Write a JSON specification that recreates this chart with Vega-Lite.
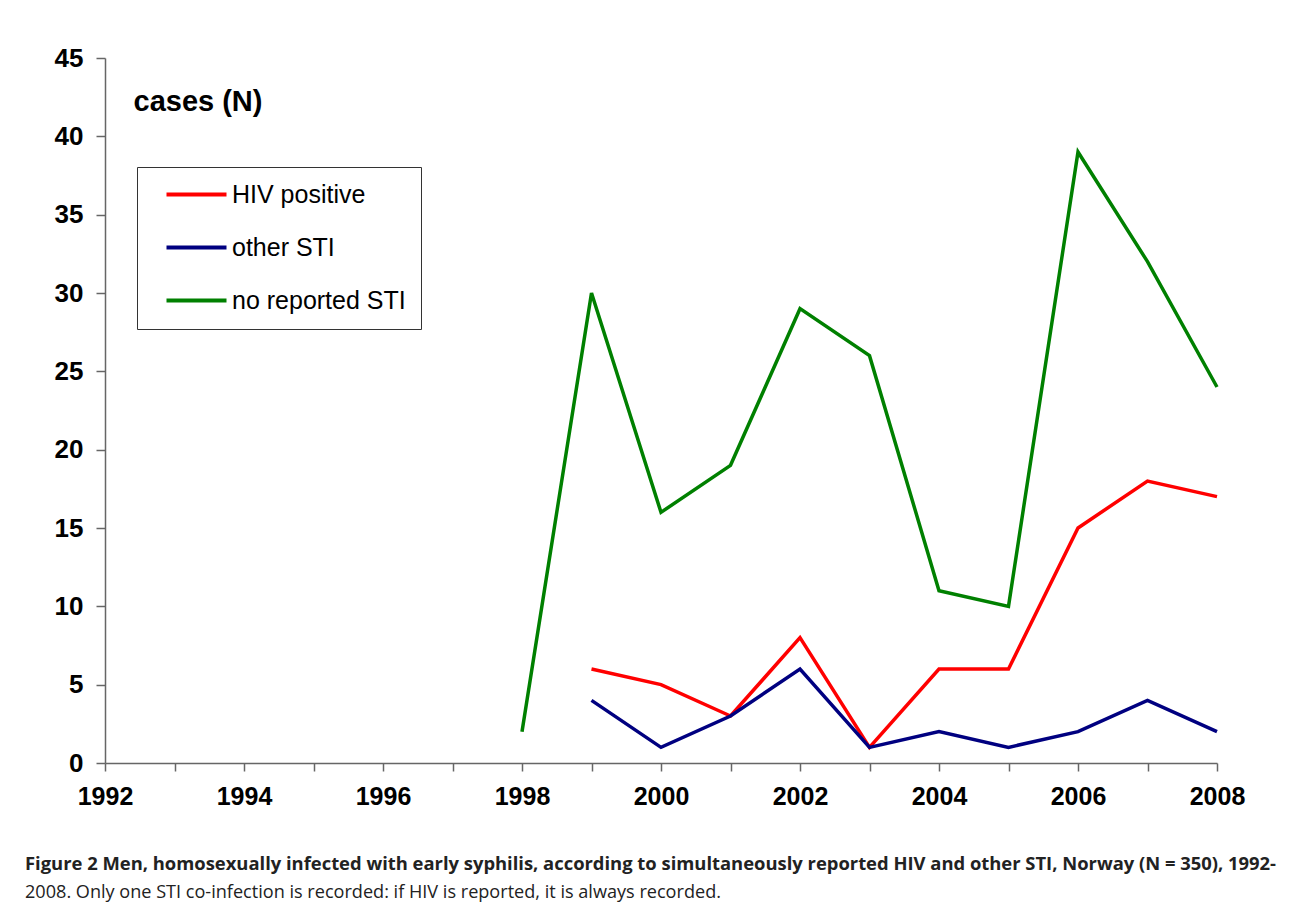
{
  "$schema": "https://vega.github.io/schema/vega-lite/v6.json",
  "autosize": "none",
  "width": 1112,
  "height": 705,
  "padding": {"left": 105, "top": 58, "right": 75, "bottom": 156},
  "background": "white",
  "config": {"view": {"stroke": null}, "font": "Liberation Sans"},
  "title": {
    "text": "Figure 2 Men, homosexually infected with early syphilis, according to simultaneously reported HIV and other STI, Norway (N = 350), 1992-",
    "subtitle": "2008. Only one STI co-infection is recorded: if HIV is reported, it is always recorded.",
    "orient": "bottom",
    "anchor": "start",
    "frame": "group",
    "dx": -80,
    "offset": 46,
    "font": "Open Sans",
    "fontSize": 18.4,
    "fontWeight": "bold",
    "color": "#222222",
    "subtitleFont": "Open Sans",
    "subtitleFontSize": 18.1,
    "subtitleColor": "#222222",
    "subtitlePadding": 11
  },
  "data": {
    "values": [
      {"year": 1998, "series": "no reported STI", "cases": 2},
      {"year": 1999, "series": "no reported STI", "cases": 30},
      {"year": 2000, "series": "no reported STI", "cases": 16},
      {"year": 2001, "series": "no reported STI", "cases": 19},
      {"year": 2002, "series": "no reported STI", "cases": 29},
      {"year": 2003, "series": "no reported STI", "cases": 26},
      {"year": 2004, "series": "no reported STI", "cases": 11},
      {"year": 2005, "series": "no reported STI", "cases": 10},
      {"year": 2006, "series": "no reported STI", "cases": 39},
      {"year": 2007, "series": "no reported STI", "cases": 32},
      {"year": 2008, "series": "no reported STI", "cases": 24},
      {"year": 1999, "series": "HIV positive", "cases": 6},
      {"year": 2000, "series": "HIV positive", "cases": 5},
      {"year": 2001, "series": "HIV positive", "cases": 3},
      {"year": 2002, "series": "HIV positive", "cases": 8},
      {"year": 2003, "series": "HIV positive", "cases": 1},
      {"year": 2004, "series": "HIV positive", "cases": 6},
      {"year": 2005, "series": "HIV positive", "cases": 6},
      {"year": 2006, "series": "HIV positive", "cases": 15},
      {"year": 2007, "series": "HIV positive", "cases": 18},
      {"year": 2008, "series": "HIV positive", "cases": 17},
      {"year": 1999, "series": "other STI", "cases": 4},
      {"year": 2000, "series": "other STI", "cases": 1},
      {"year": 2001, "series": "other STI", "cases": 3},
      {"year": 2002, "series": "other STI", "cases": 6},
      {"year": 2003, "series": "other STI", "cases": 1},
      {"year": 2004, "series": "other STI", "cases": 2},
      {"year": 2005, "series": "other STI", "cases": 1},
      {"year": 2006, "series": "other STI", "cases": 2},
      {"year": 2007, "series": "other STI", "cases": 4},
      {"year": 2008, "series": "other STI", "cases": 2}
    ]
  },
  "mark": {"type": "line", "strokeWidth": 3.5, "strokeJoin": "miter"},
  "encoding": {
    "x": {
      "field": "year",
      "type": "quantitative",
      "scale": {"domain": [1992, 2008], "nice": false, "zero": false},
      "axis": {
        "title": null,
        "grid": false,
        "values": [1992, 1993, 1994, 1995, 1996, 1997, 1998, 1999, 2000, 2001, 2002, 2003, 2004, 2005, 2006, 2007, 2008],
        "labelExpr": "datum.value % 2 == 0 ? datum.value : ''",
        "labelFlush": false,
        "labelFont": "Liberation Sans",
        "labelFontSize": 25,
        "labelFontWeight": "bold",
        "labelColor": "black",
        "labelPadding": 13,
        "labelOverlap": false,
        "domainColor": "#666666",
        "domainWidth": 1.5,
        "tickColor": "#666666",
        "tickWidth": 1.5,
        "tickSize": 8
      }
    },
    "y": {
      "field": "cases",
      "type": "quantitative",
      "scale": {"domain": [0, 45], "nice": false},
      "axis": {
        "title": "cases (N)",
        "titleAngle": 0,
        "titleAlign": "left",
        "titleBaseline": "middle",
        "titleX": 28,
        "titleY": 43,
        "titleFont": "Liberation Sans",
        "titleFontSize": 29,
        "titleFontWeight": "bold",
        "titleColor": "black",
        "grid": false,
        "values": [0, 5, 10, 15, 20, 25, 30, 35, 40, 45],
        "labelFlush": false,
        "labelFont": "Liberation Sans",
        "labelFontSize": 26,
        "labelFontWeight": "bold",
        "labelColor": "black",
        "labelPadding": 13,
        "domainColor": "#666666",
        "domainWidth": 1.5,
        "tickColor": "#666666",
        "tickWidth": 1.5,
        "tickSize": 9
      }
    },
    "color": {
      "field": "series",
      "type": "nominal",
      "scale": {
        "domain": ["HIV positive", "other STI", "no reported STI"],
        "range": ["#FF0000", "#000080", "#008000"]
      },
      "legend": {
        "title": null,
        "orient": "none",
        "legendX": 32,
        "legendY": 109,
        "padding": 15,
        "strokeColor": "#333333",
        "fillColor": "white",
        "symbolType": "M-3,0H3",
        "symbolSize": 400,
        "symbolStrokeWidth": 4,
        "symbolOffset": 32,
        "labelExpr": "datum.label == 'HIV positive' ? '\u00a0HIV positive' : datum.label",
        "labelFont": "Liberation Sans",
        "labelFontSize": 25,
        "labelColor": "black",
        "labelOffset": 23,
        "rowPadding": 27,
        "labelLimit": 400
      }
    }
  }
}
